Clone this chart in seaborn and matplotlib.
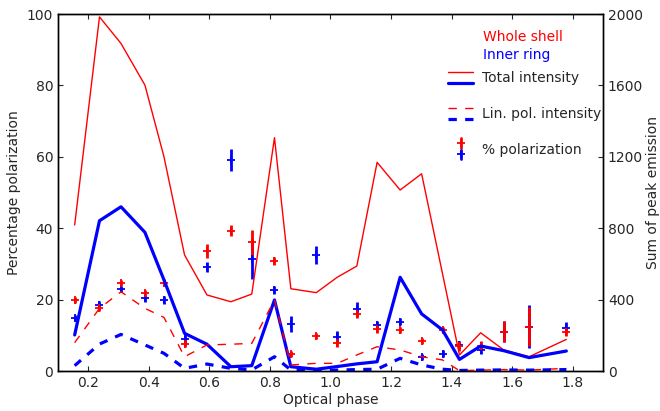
import matplotlib
matplotlib.use("Agg")
import matplotlib.pyplot as plt
import seaborn as sns
from matplotlib.lines import Line2D
from matplotlib.legend_handler import HandlerBase

# optical phase of each bin
phase = [0.155, 0.237, 0.308, 0.387, 0.45, 0.518, 0.592, 0.671, 0.74, 0.815, 0.869, 0.953,
         1.022, 1.087, 1.154, 1.23, 1.301, 1.37, 1.426, 1.496, 1.572, 1.656, 1.779]

# sum of peak emission (right axis)
shell_total = [818, 1984, 1835, 1602, 1200, 650, 426, 388, 431, 1307, 461, 439,
               525, 588, 1169, 1014, 1105, 545, 90, 214, 118, 80, 177]
ring_total = [202, 842, 920, 777, 510, 211, 150, 24, 30, 398, 24, 10,
              25, 40, 52, 525, 320, 230, 65, 140, 114, 75, 112]
shell_linpol = [159, 351, 444, 351, 300, 80, 146, 150, 155, 398, 34, 43,
                43, 90, 136, 118, 80, 62, 2, 5, 8, 5, 15]
ring_linpol = [30, 151, 205, 146, 99, 15, 39, 15, 6, 80, 6, 2,
               5, 8, 10, 71, 34, 10, 3, 5, 6, 5, 8]

# percentage polarization (left axis)
shell_pol = [19.9, 17.6, 24.6, 21.8, 24.7, 7.6, 33.6, 39.3, 36.0, 30.8, 4.7, 9.8,
             7.8, 15.9, 11.7, 11.5, 8.5, 11.5, 7.0, 7.0, 11.0, 12.4, 11.0]
shell_err = [0.9, 0.9, 0.9, 1.0, 1.0, 1.0, 1.9, 1.6, 3.5, 1.2, 0.9, 0.9,
             1.0, 1.0, 1.0, 0.9, 0.8, 0.9, 1.5, 1.5, 3.0, 5.5, 1.3]
ring_pol = [14.9, 18.5, 22.9, 20.4, 19.9, 8.9, 29.2, 59.1, 31.4, 22.7, 13.1, 32.5,
            9.6, 17.3, 12.9, 13.8, 4.0, 4.9, 7.3, 5.9, 11.0, 12.4, 12.1]
ring_err = [0.9, 1.0, 0.9, 1.0, 1.0, 1.2, 1.4, 3.0, 5.5, 1.0, 2.2, 2.5,
            1.5, 2.0, 1.0, 1.0, 0.8, 1.0, 1.2, 1.2, 3.0, 6.0, 1.5]

sns.set_style("ticks")
plt.rcParams["lines.scale_dashes"] = False
plt.rcParams["font.size"] = 10
dash = (0, (6, 6))


class PairHandler(HandlerBase):
    # draws the two handles of a tuple one above the other
    def create_artists(self, legend, orig_handle, xdescent, ydescent,
                       width, height, fontsize, trans):
        out = []
        yc = -ydescent + height / 2
        for h, dy in zip(orig_handle, (4.2, -3.8)):
            y = yc + dy
            if h.get_marker() == "+":
                xm = -xdescent + width / 2
                bar = Line2D([xm, xm], [y - 3.5, y + 3.5], color=h.get_color(), lw=2)
                mk = Line2D([xm], [y], ls="none", marker="+", ms=h.get_markersize(),
                            mew=h.get_markeredgewidth(), color=h.get_color())
                out += [bar, mk]
            else:
                ln = Line2D([-xdescent, -xdescent + width], [y, y])
                ln.update_from(h)
                out.append(ln)
        for a in out:
            a.set_transform(trans)
        return out


fig = plt.figure(figsize=(6.6, 4.11), dpi=100)
ax = fig.add_axes([0.0879, 0.0973, 0.8257, 0.8686])
ax2 = ax.twinx()

sns.lineplot(x=phase, y=shell_total, ax=ax2, color="red", lw=1)
sns.lineplot(x=phase, y=ring_total, ax=ax2, color="blue", lw=2.3)
sns.lineplot(x=phase, y=shell_linpol, ax=ax2, color="red", lw=1, linestyle=dash)
sns.lineplot(x=phase, y=ring_linpol, ax=ax2, color="blue", lw=2.3, linestyle=dash)

ax.errorbar(phase, ring_pol, yerr=ring_err, fmt="+", color="blue", ms=5.5, mew=1.3,
            elinewidth=2, capsize=0)
ax.errorbar(phase, shell_pol, yerr=shell_err, fmt="+", color="red", ms=5.5, mew=1.3,
            elinewidth=2, capsize=0)

ax.set_xlim(0.1, 1.9)
ax.set_ylim(0, 100)
ax2.set_ylim(0, 2000)
ax.set_xticks([0.2, 0.4, 0.6, 0.8, 1.0, 1.2, 1.4, 1.6, 1.8])
ax.set_yticks(range(0, 101, 20))
ax2.set_yticks(range(0, 2001, 400))
ax.tick_params(direction="in", length=3.5, top=True, labelsize=10)
ax2.tick_params(direction="in", length=3.5, labelsize=10)
for a in (ax, ax2):
    for s in a.spines.values():
        s.set_linewidth(1)
        s.set_color("black")

ax.set_xlabel("Optical phase", fontsize=10, labelpad=2)
ax.set_ylabel("Percentage polarization", fontsize=10)
ax2.set_ylabel("Sum of peak emission", fontsize=10, labelpad=2)

# legend
tot_r = Line2D([], [], color="red", lw=1)
tot_b = Line2D([], [], color="blue", lw=2.3)
lin_r = Line2D([], [], color="red", lw=1, linestyle=dash)
lin_b = Line2D([], [], color="blue", lw=2.3, linestyle=dash)
pol_r = Line2D([], [], color="red", ls="none", marker="+", ms=6, mew=1.3)
pol_b = Line2D([], [], color="blue", ls="none", marker="+", ms=6, mew=1.3)

ax2.text(0.78, 0.936, "Whole shell", color="red", transform=ax.transAxes,
         va="center", fontsize=10)
ax2.text(0.78, 0.885, "Inner ring", color="blue", transform=ax.transAxes,
         va="center", fontsize=10)
ax2.legend([(tot_r, tot_b), (lin_r, lin_b), (pol_r, pol_b)],
           ["Total intensity", "Lin. pol. intensity", "% polarization"],
           handler_map={tuple: PairHandler()}, loc="upper left",
           bbox_to_anchor=(0.716, 0.852), frameon=False, borderpad=0,
           borderaxespad=0, handlelength=1.8, handleheight=2.0,
           labelspacing=1.03, handletextpad=0.65, fontsize=10)

fig.savefig("out.png", dpi=100)
